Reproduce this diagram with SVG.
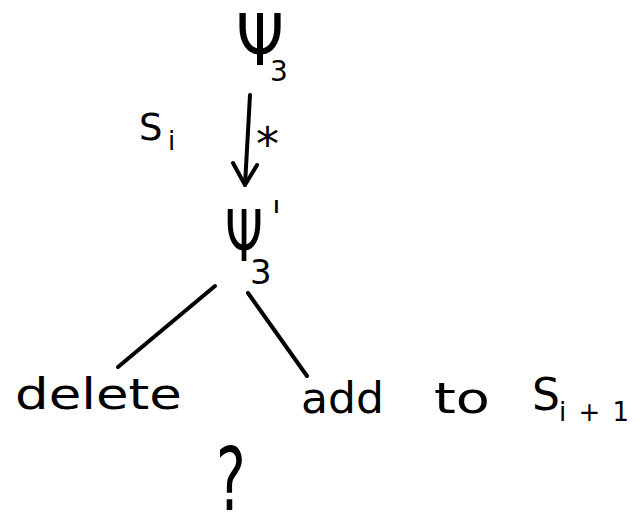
<svg xmlns="http://www.w3.org/2000/svg" width="644" height="514" viewBox="0 0 644 514">
<style>
.t{font-family:"DejaVu Sans","Liberation Sans",sans-serif;fill:#000}
.c{stroke:#000;stroke-width:4;fill:none;stroke-linecap:round;stroke-linejoin:round}
</style>
<rect width="644" height="514" fill="#fff"/>
<g id="psi3">
<text class="t" x="236" y="65" font-size="72" textLength="48" lengthAdjust="spacingAndGlyphs">Ψ</text>
<text class="t" x="270" y="81" font-size="28">3</text>
</g>
<g id="psi3prime">
<text class="t" x="225" y="261" font-size="72" textLength="38" lengthAdjust="spacingAndGlyphs">Ψ</text>
<text class="t" transform="translate(272,235) scale(1,1.5)" font-size="32">'</text>
<text class="t" x="250" y="284" font-size="34">3</text>
</g>
<g id="delete">
<text class="t" x="15" y="409" font-size="42" textLength="167" lengthAdjust="spacingAndGlyphs">delete</text>
</g>
<g id="addto">
<text class="t" x="301" y="413" font-size="42" textLength="83" lengthAdjust="spacingAndGlyphs">add</text>
<text class="t" x="434" y="413" font-size="42" textLength="56" lengthAdjust="spacingAndGlyphs">to</text>
<text class="t" x="532" y="410" font-size="44">S</text>
<text class="t" x="559" y="421" font-size="26" textLength="70" lengthAdjust="spacing">i+1</text>
</g>
<g id="question">
<text class="t" transform="translate(216,510) scale(1,1.55)" font-size="56">?</text>
</g>
<g id="connectors">
<path class="c" d="M250,95 L245,185"/>
<path class="c" d="M233,163 L245,185 L257,165"/>
<path class="c" d="M215,286 L118,367"/>
<path class="c" d="M248,293 L307,376"/>
</g>
<g id="labels">
<text class="t" x="139" y="140" font-size="37">S</text>
<text class="t" x="168" y="150" font-size="26">i</text>
<text class="t" x="256" y="160" font-size="46">*</text>
</g>
</svg>
